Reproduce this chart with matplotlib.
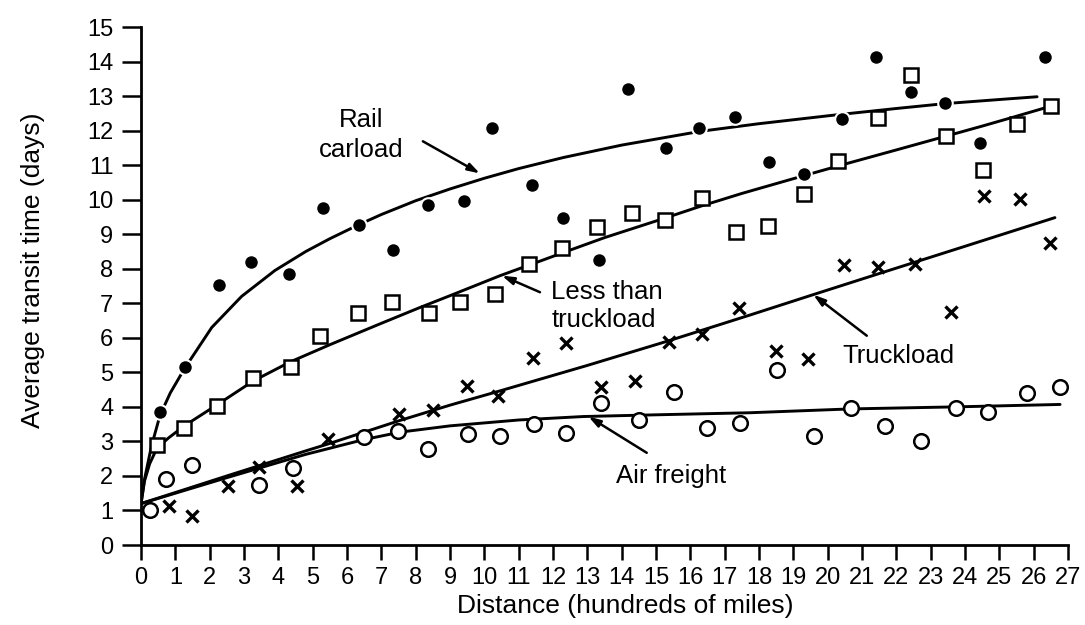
import matplotlib
matplotlib.use("Agg")
import matplotlib.pyplot as plt

plt.rcParams["font.family"] = ["Liberation Sans", "DejaVu Sans"]

# scatter points (distance in hundreds of miles, days)
rail_x = [0.55, 1.28, 2.28, 3.2, 4.32, 5.29, 6.34, 7.33, 8.35, 9.42, 10.23, 11.4, 12.3,
          13.34, 14.19, 15.28, 16.26, 17.3, 18.29, 19.3, 20.41, 21.42, 22.42, 23.41,
          24.44, 26.34]
rail_y = [3.85, 5.14, 7.53, 8.2, 7.85, 9.76, 9.27, 8.53, 9.86, 9.95, 12.08, 10.42, 9.47,
          8.24, 13.2, 11.5, 12.08, 12.39, 11.08, 10.74, 12.33, 14.12, 13.11, 12.81,
          11.63, 14.14]

ltl_x = [0.47, 1.26, 2.22, 3.25, 4.36, 5.21, 6.33, 7.3, 8.4, 9.29, 10.31, 11.31, 12.27,
         13.27, 14.29, 15.26, 16.33, 17.33, 18.25, 19.3, 20.29, 21.46, 22.42, 23.45,
         24.52, 25.51, 26.51]
ltl_y = [2.91, 3.39, 4.02, 4.83, 5.15, 6.04, 6.72, 7.04, 6.73, 7.03, 7.27, 8.14, 8.6,
         9.2, 9.62, 9.42, 10.06, 9.06, 9.24, 10.17, 11.12, 12.37, 13.61, 11.84,
         10.85, 12.18, 12.71]

truck_x = [0.8, 1.49, 2.52, 3.45, 4.53, 5.46, 7.52, 8.51, 9.49, 10.41, 11.43, 12.37,
           13.4, 14.39, 15.39, 16.33, 17.43, 18.5, 19.44, 20.48, 21.48, 22.53, 23.59,
           24.56, 25.6, 26.48]
truck_y = [1.13, 0.85, 1.72, 2.26, 1.7, 3.07, 3.8, 3.92, 4.6, 4.31, 5.41, 5.86,
           4.58, 4.75, 5.88, 6.1, 6.85, 5.62, 5.38, 8.12, 8.06, 8.14, 6.76,
           10.11, 10.03, 8.75]

air_x = [0.26, 0.73, 1.48, 3.44, 4.44, 6.48, 7.48, 8.37, 9.52, 10.46, 11.46, 12.38,
         13.4, 14.51, 15.51, 16.48, 17.45, 18.52, 19.6, 20.67, 21.67, 22.72, 23.74,
         24.68, 25.8, 26.77]
air_y = [1.02, 1.91, 2.33, 1.74, 2.23, 3.12, 3.29, 2.78, 3.22, 3.15, 3.51, 3.23,
         4.1, 3.63, 4.44, 3.39, 3.54, 5.07, 3.17, 3.97, 3.46, 3.02, 3.97,
         3.85, 4.39, 4.58]

# fitted curves, points
rail_cx = [0, 0.1, 0.3, 0.55, 0.85, 1.26, 2.06, 2.93, 3.9, 4.8, 5.5, 6.33, 7.0, 8.0,
           9.0, 10.0, 11.0, 12.3, 14.0, 16.3, 18.0, 20.2, 22.0, 23.4, 25.0, 26.1]
rail_cy = [1.2, 1.9, 2.85, 3.75, 4.4, 5.1, 6.3, 7.2, 7.95, 8.5, 8.87, 9.27, 9.57, 9.97,
           10.31, 10.62, 10.9, 11.22, 11.58, 11.98, 12.2, 12.45, 12.64, 12.78, 12.9, 12.98]

ltl_cx = [0, 0.1, 0.25, 0.46, 0.8, 1.26, 2.23, 3.27, 4.34, 5.5, 7.0, 8.13, 9.0, 10.46,
          11.62, 12.25, 13.5, 15.21, 16.33, 17.5, 19.15, 20.5, 22.0, 23.45, 24.5, 25.41, 26.51]
ltl_cy = [1.2, 1.85, 2.35, 2.8, 3.1, 3.45, 4.07, 4.75, 5.3, 5.8, 6.42, 6.88, 7.22, 7.8,
          8.22, 8.45, 8.9, 9.45, 9.82, 10.18, 10.65, 11.03, 11.44, 11.84, 12.13, 12.39, 12.71]

truck_cx = [0, 2.5, 4.78, 5.46, 7.52, 9.0, 10.48, 13.0, 15.39, 17.74, 19.58, 21.5,
            24.0, 26.62]
truck_cy = [1.2, 2.0, 2.72, 2.93, 3.6, 4.05, 4.47, 5.2, 5.92, 6.66, 7.25, 7.86,
            8.65, 9.48]

air_cx = [0, 2.5, 4.78, 6.48, 7.56, 9.0, 11.0, 12.88, 15.0, 17.74, 20.65, 23.74, 26.77]
air_cy = [1.2, 1.95, 2.62, 3.05, 3.27, 3.45, 3.62, 3.72, 3.77, 3.83, 3.94, 4.0, 4.07]

x_ticks = list(range(0, 28))
y_ticks = list(range(0, 16))


fig = plt.figure(figsize=(10.85, 6.25), dpi=100)
ax = fig.add_axes([0.13, 0.128, 0.8543, 0.8288])

line_kw = dict(color="black", lw=2.1, solid_capstyle="round", solid_joinstyle="round", zorder=2)
for cx, cy in [(rail_cx, rail_cy), (ltl_cx, ltl_cy), (truck_cx, truck_cy), (air_cx, air_cy)]:
    ax.plot(cx, cy, **line_kw)

ax.plot(rail_x, rail_y, "o", ms=10.5, mfc="black", mec="white", mew=1.5, zorder=3, clip_on=False)
ax.plot(ltl_x, ltl_y, "s", ms=9.5, mfc="white", mec="black", mew=1.8, zorder=3, clip_on=False)
ax.plot(truck_x, truck_y, "x", ms=9, mec="black", mew=2.4, zorder=3, clip_on=False)
ax.plot(air_x, air_y, "o", ms=10.5, mfc="white", mec="black", mew=1.8, zorder=3, clip_on=False)

arrow = dict(arrowstyle="-|>,head_length=0.7,head_width=0.22", color="black", lw=1.8,
             shrinkA=0, shrinkB=0)
ax.annotate("", xy=(9.87, 10.76), xytext=(8.21, 11.69), arrowprops=arrow)
ax.text(6.4, 11.87, "Rail\ncarload", ha="center", va="center", fontsize=18.5, linespacing=1.3)

ax.annotate("", xy=(10.51, 7.8), xytext=(11.62, 7.32), arrowprops=arrow)
ax.text(11.95, 6.93, "Less than\ntruckload", ha="left", va="center", fontsize=18.5,
        linespacing=1.2)

ax.annotate("", xy=(19.58, 7.25), xytext=(21.14, 6.06), arrowprops=arrow)
ax.text(22.05, 5.47, "Truckload", ha="center", va="center", fontsize=18.5)

ax.annotate("", xy=(13.03, 3.72), xytext=(14.73, 2.67), arrowprops=arrow)
ax.text(15.45, 1.99, "Air freight", ha="center", va="center", fontsize=18.5)

ax.set_xlim(0, 27)
ax.set_ylim(0, 15)
ax.set_xticks(x_ticks)
ax.set_yticks(y_ticks)
ax.tick_params(axis="both", direction="out", width=1.8, labelsize=17, color="black")
ax.tick_params(axis="x", length=11, pad=5)
ax.tick_params(axis="y", length=14, pad=6)
for side in ["top", "right"]:
    ax.spines[side].set_visible(False)
for side in ["left", "bottom"]:
    ax.spines[side].set_linewidth(2.0)

ax.set_xlabel("Distance (hundreds of miles)", fontsize=19)
ax.set_ylabel("Average transit time (days)", fontsize=19)
ax.xaxis.set_label_coords(0.522, -0.095)
ax.yaxis.set_label_coords(-0.104, 0.53)

fig.savefig("out.png", dpi=100)
plt.close(fig)
